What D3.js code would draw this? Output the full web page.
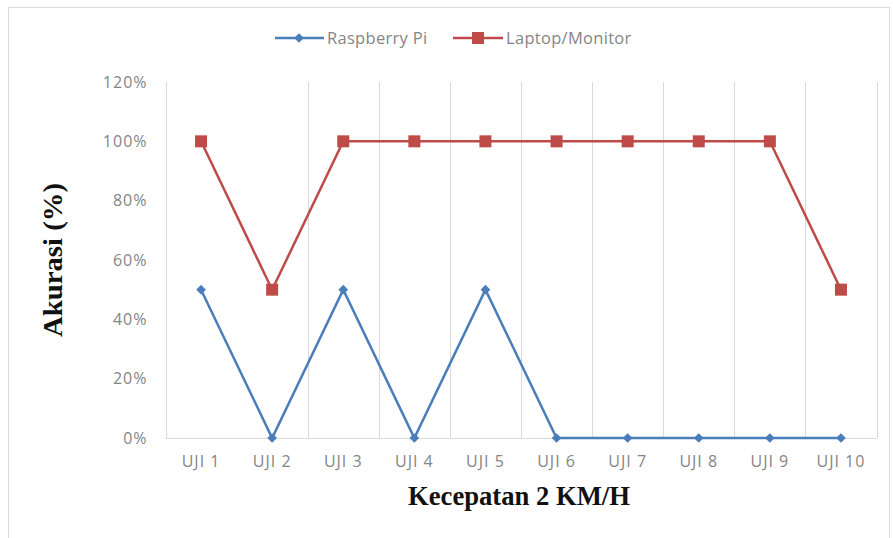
<!DOCTYPE html>
<html><head><meta charset="utf-8">
<script src="https://cdn.jsdelivr.net/npm/d3@7/dist/d3.min.js"></script>
<style>body{margin:0;background:#fff}svg{display:block}</style>
</head><body>
<script>
const categories = ["UJI 1","UJI 2","UJI 3","UJI 4","UJI 5","UJI 6","UJI 7","UJI 8","UJI 9","UJI 10"];
const raspberryPi = [50,0,50,0,50,0,0,0,0,0];
const laptopMonitor = [100,50,100,100,100,100,100,100,100,50];
const yTicks = [0,20,40,60,80,100,120];
const seriesNames = ["Raspberry Pi","Laptop/Monitor"];

const W=893,H=538;
const svg=d3.select("body").append("svg").attr("width",W).attr("height",H);
svg.append("rect").attr("x",8.5).attr("y",7.5).attr("width",W-12).attr("height",H-4).attr("fill","#fff").attr("stroke","#d9d9d9");

const pL=165.5,pR=876.5,pT=82,pB=438;
const x=d3.scaleBand().domain(categories).range([pL,pR]);
const y=d3.scaleLinear().domain([0,120]).range([pB,pT]);
const g=svg.append("g");
const txtFont="Open Sans, Liberation Sans, sans-serif", txtCol="#858585";

// vertical gridlines at category boundaries
const bounds=categories.map(c=>x(c)).concat([pR]);
g.selectAll("line.vg").data(bounds.filter((b,i)=>i!==1)).join("line")
 .attr("x1",d=>Math.round(d)+0.5).attr("x2",d=>Math.round(d)+0.5).attr("y1",pT).attr("y2",pB)
 .attr("stroke","#d9d9d9").attr("stroke-width",1);
g.append("line").attr("x1",pL).attr("x2",pR).attr("y1",pB+0.5).attr("y2",pB+0.5).attr("stroke","#d9d9d9");

// y tick labels
const yAxis=d3.axisLeft(y).tickValues(yTicks).tickFormat(d=>d+"%").tickSize(0).tickPadding(18);
const ya=svg.append("g").attr("transform",`translate(${pL},0)`).call(yAxis);
ya.select(".domain").remove();
ya.selectAll("text").attr("font-family",txtFont).attr("font-size",16).attr("letter-spacing",1).attr("fill",txtCol);

// x tick labels
const xAxis=d3.axisBottom(x).tickSize(0).tickPadding(18);
const xa=svg.append("g").attr("transform",`translate(0,${pB})`).call(xAxis);
xa.select(".domain").remove();
xa.selectAll("text").attr("font-family",txtFont).attr("font-size",16).attr("letter-spacing",1).attr("fill",txtCol);

const cx=c=>x(c)+x.bandwidth()/2;
const line=d3.line().x((d,i)=>cx(categories[i])).y(d=>y(d));
const blue="#4a7ebb", red="#be4b48";
svg.append("path").datum(laptopMonitor).attr("d",line).attr("fill","none").attr("stroke",red).attr("stroke-width",2.5);
svg.append("path").datum(raspberryPi).attr("d",line).attr("fill","none").attr("stroke",blue).attr("stroke-width",2.5);
const diamond=d3.symbol().type(d3.symbolDiamond2).size(60);
svg.selectAll("rect.sq").data(laptopMonitor).join("rect")
 .attr("x",(d,i)=>cx(categories[i])-6).attr("y",d=>y(d)-6).attr("width",12).attr("height",12).attr("fill",red);
svg.selectAll("path.dm").data(raspberryPi).join("path")
 .attr("transform",(d,i)=>`translate(${cx(categories[i])},${y(d)})`).attr("d",diamond).attr("fill",blue);

// legend
const lg=svg.append("g");
lg.append("line").attr("x1",275).attr("x2",324).attr("y1",38).attr("y2",38).attr("stroke",blue).attr("stroke-width",2.5);
lg.append("path").attr("transform","translate(299,38)").attr("d",diamond).attr("fill",blue);
lg.append("text").attr("x",327).attr("y",44).text(seriesNames[0]);
lg.append("line").attr("x1",453).attr("x2",503).attr("y1",38).attr("y2",38).attr("stroke",red).attr("stroke-width",2.5);
lg.append("rect").attr("x",472).attr("y",32).attr("width",12).attr("height",12).attr("fill",red);
lg.append("text").attr("x",506).attr("y",44).text(seriesNames[1]);
lg.selectAll("text").attr("font-family",txtFont).attr("font-size",16.5).attr("letter-spacing",0.3).attr("fill",txtCol);

// titles
svg.append("text").attr("x",519).attr("y",505).attr("text-anchor","middle")
 .attr("font-family","Liberation Serif, serif").attr("font-weight","bold").attr("font-size",28).attr("fill","#111")
 .attr("textLength",222).attr("lengthAdjust","spacingAndGlyphs")
 .text("Kecepatan 2 KM/H");
svg.append("text").attr("transform","translate(62,260) rotate(-90)").attr("text-anchor","middle")
 .attr("font-family","Liberation Serif, serif").attr("font-weight","bold").attr("font-size",28).attr("fill","#111")
 .attr("textLength",154).attr("lengthAdjust","spacingAndGlyphs")
 .text("Akurasi (%)");
</script>
</body></html>
